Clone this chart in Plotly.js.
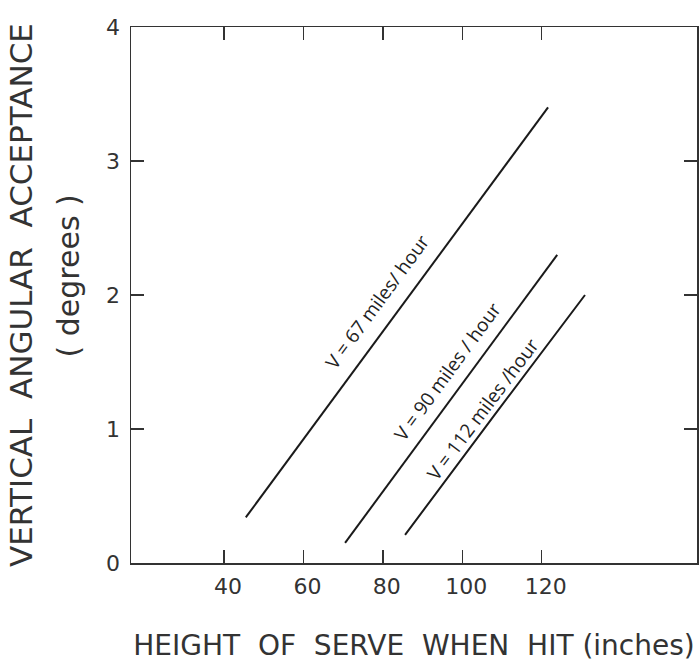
<!DOCTYPE html>
<html>
<head>
<meta charset="utf-8">
<script src="https://cdn.plot.ly/plotly-3.0.1.min.js"></script>
<style>html,body{margin:0;padding:0;background:#fff;}#chart{width:699px;height:670px;}</style>
</head>
<body>
<div id="chart"></div>
<script>
// Data
const seriesNames = ["V = 67 miles/ hour", "V = 90 miles / hour", "V = 112 miles /hour"];
const heightV67 = [45.5, 81.6, 121.6];
const angleV67  = [0.34, 1.79, 3.40];
const heightV90 = [70.5, 97.0, 123.9];
const angleV90  = [0.15, 1.22, 2.30];
const heightV112 = [85.6, 108.0, 130.9];
const angleV112  = [0.21, 1.10, 2.00];
const xTickVals = [40, 60, 80, 100, 120];
const yTickVals = [0, 1, 2, 3, 4];
// label anchor positions (data coords) and angles
const labelX = [78.5, 96.4, 105.2];
const labelY = [1.95, 1.43, 1.15];
const labelAngle = [-53.7, -53.8, -53.1];

const lineStyle = {color: '#1a1a1a', width: 2};
const traces = [
  {x: heightV67, y: angleV67, name: seriesNames[0]},
  {x: heightV90, y: angleV90, name: seriesNames[1]},
  {x: heightV112, y: angleV112, name: seriesNames[2]}
].map(t => Object.assign(t, {type: 'scatter', mode: 'lines', line: lineStyle, hoverinfo: 'skip'}));

const axisFont = {family: 'DejaVu Sans', size: 22, color: '#333'};
const xTitleFont = {family: 'DejaVu Sans', size: 28, color: '#333'};
const yTitleFont = {family: 'DejaVu Sans', size: 31, color: '#333'};
const degFont = {family: 'DejaVu Sans', size: 30, color: '#333'};

const annotations = seriesNames.map((s, i) => ({
  x: labelX[i], y: labelY[i], xref: 'x', yref: 'y', text: s, showarrow: false,
  textangle: labelAngle[i], font: {family: 'Open Sans', size: 19, color: '#222'}
}));
annotations.push({
  x: -0.111, y: 0.535, xref: 'paper', yref: 'paper', text: '( degrees )', showarrow: false,
  textangle: -90, font: degFont, xanchor: 'center', yanchor: 'middle'
});

const layout = {
  width: 699, height: 670,
  margin: {l: 131, r: 2, t: 27, b: 107},
  paper_bgcolor: '#fff', plot_bgcolor: '#fff',
  showlegend: false,
  xaxis: {
    range: [16.6, 159.1], tickvals: xTickVals, ticktext: xTickVals.map(String),
    ticks: 'inside', ticklen: 13, tickwidth: 1.5, tickcolor: '#333',
    showline: true, linewidth: 1.5, linecolor: '#333', mirror: 'ticks',
    showgrid: false, zeroline: false, tickfont: axisFont, ticklabelstandoff: 3, ticklabelshift: 4,
    title: {text: 'HEIGHT\u00A0 OF\u00A0 SERVE\u00A0 WHEN\u00A0 HIT (inches)', font: xTitleFont, standoff: 37}
  },
  yaxis: {
    range: [0, 4], tickvals: yTickVals, ticktext: yTickVals.map(String),
    ticks: 'inside', ticklen: 13, tickwidth: 1.5, tickcolor: '#333',
    showline: true, linewidth: 1.5, linecolor: '#333', mirror: 'ticks',
    showgrid: false, zeroline: false, tickfont: axisFont, ticklabelstandoff: 5,
    title: {text: 'VERTICAL\u00A0 ANGULAR\u00A0 ACCEPTANCE', font: yTitleFont, standoff: 64}
  },
  annotations: annotations
};

Plotly.newPlot('chart', traces, layout, {displayModeBar: false, staticPlot: true});
</script>
</body>
</html>
